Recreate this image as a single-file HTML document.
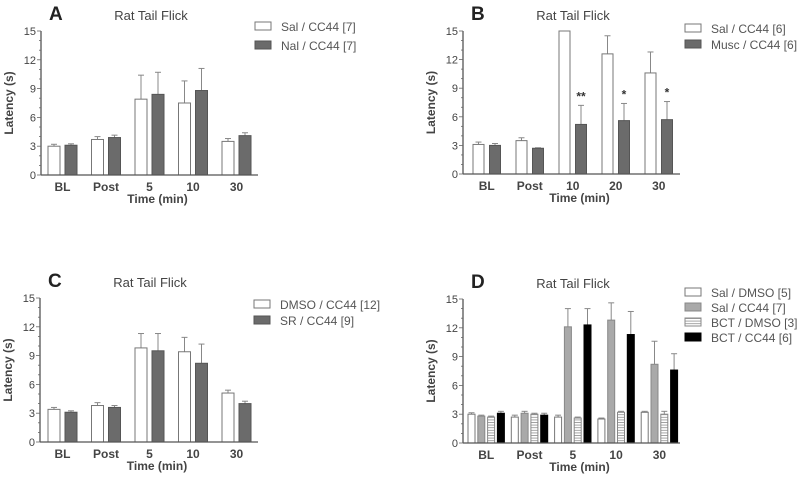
<!DOCTYPE html>
<html><head><meta charset="utf-8"><style>
html,body{margin:0;padding:0;background:#fff;}
svg{display:block;font-family:"Liberation Sans",Arial,sans-serif;}
</style></head><body>
<svg id="fig" width="800" height="482" viewBox="0 0 800 482">
<defs><pattern id="hatch" width="4" height="2.6" patternUnits="userSpaceOnUse"><rect width="4" height="2.6" fill="#fff"/><line x1="0" y1="1.3" x2="4" y2="1.3" stroke="#999" stroke-width="0.9"/></pattern></defs>
</svg>
<script>
const cats = [
  ["BL","Post","5","10","30"],
  ["BL","Post","10","20","30"],
  ["BL","Post","5","10","30"],
  ["BL","Post","5","10","30"]
];
const yTicks = [0,3,6,9,12,15];
const aSal = [3.0,3.7,7.9,7.5,3.5], aSalErr = [0.2,0.3,2.5,2.3,0.3];
const aNal = [3.1,3.9,8.4,8.8,4.1], aNalErr = [0.15,0.25,2.3,2.3,0.3];
const bSal = [3.1,3.5,15,12.6,10.6], bSalErr = [0.25,0.3,0,1.9,2.2];
const bMusc = [3.0,2.7,5.2,5.6,5.7], bMuscErr = [0.2,0.05,2.0,1.8,1.9];
const bStars = ["","","**","*","*"];
const cDmso = [3.4,3.8,9.8,9.4,5.1], cDmsoErr = [0.2,0.3,1.5,1.5,0.3];
const cSr = [3.1,3.6,9.5,8.2,4.0], cSrErr = [0.15,0.2,1.8,2.0,0.25];
const dSalDmso = [3.0,2.7,2.7,2.5,3.2], dSalDmsoErr = [0.15,0.2,0.2,0.1,0.1];
const dSalCc = [2.8,3.1,12.1,12.8,8.2], dSalCcErr = [0.1,0.2,1.9,1.8,2.4];
const dBctDmso = [2.7,3.0,2.6,3.2,3.0], dBctDmsoErr = [0.1,0.1,0.1,0.1,0.3];
const dBctCc = [3.1,2.9,12.3,11.3,7.6], dBctCcErr = [0.2,0.2,1.7,2.4,1.7];

const svg = document.getElementById('fig');
const NS = 'http://www.w3.org/2000/svg';
function mk(tag, attrs, parent, text){
  const e = document.createElementNS(NS, tag);
  for (const k in attrs) e.setAttribute(k, attrs[k]);
  if (text !== undefined) e.textContent = text;
  (parent||svg).appendChild(e);
  return e;
}
const styles = {
  white:{fill:"#fff",stroke:"#777"},
  dark:{fill:"#6b6b6b",stroke:"#555"},
  light:{fill:"#a9a9a9",stroke:"#888"},
  hatch:{fill:"url(#hatch)",stroke:"#888"},
  black:{fill:"#000",stroke:"#000"}
};
const panels = [
  {id:"a",letter:"A",ax:41,y0:175,y15:31,xEnd:258,start:48,gstep:43.5,bw:12,bstep:17,ci:0,
   series:[[aSal,aSalErr,"white","Sal / CC44 [7]"],[aNal,aNalErr,"dark","Nal / CC44 [7]"]],
   legX:255,legY:22,legStep:19},
  {id:"b",letter:"B",ax:463,y0:174,y15:31,xEnd:680,start:473,gstep:43,bw:11,bstep:16.5,ci:1,
   series:[[bSal,bSalErr,"white","Sal / CC44 [6]"],[bMusc,bMuscErr,"dark","Musc / CC44 [6]"]],
   legX:685,legY:24,legStep:16,stars:bStars},
  {id:"c",letter:"C",ax:40,y0:442,y15:298,xEnd:258,start:48,gstep:43.5,bw:12,bstep:17,ci:2,
   series:[[cDmso,cDmsoErr,"white","DMSO / CC44 [12]"],[cSr,cSrErr,"dark","SR / CC44 [9]"]],
   legX:254,legY:300,legStep:16},
  {id:"d",letter:"D",ax:463,y0:443,y15:299,xEnd:680,start:468,gstep:43.3,bw:7,bstep:9.8,ci:3,
   series:[[dSalDmso,dSalDmsoErr,"white","Sal / DMSO [5]"],[dSalCc,dSalCcErr,"light","Sal / CC44 [7]"],
           [dBctDmso,dBctDmsoErr,"hatch","BCT / DMSO [3]"],[dBctCc,dBctCcErr,"black","BCT / CC44 [6]"]],
   legX:685,legY:288,legStep:15}
];
panels.forEach(p=>{
  const g = mk('g',{});
  
  
  const y = v => p.y0 - (v/15)*(p.y0-p.y15);
  const xc = cats[p.ci];
  const t = mk('text',{x:p.ax+8,y:p.y15-11,'font-size':19,'font-weight':'bold',fill:'#222'},g,p.letter);
   
  const ti = mk('text',{x:p.ax+110,y:p.y15-11,'font-size':13,fill:'#444','text-anchor':'middle'},g,"Rat Tail Flick");
   
  p.series.forEach((s,si)=>{
    const [vals,errs,st,label] = s;
    vals.forEach((v,i)=>{
      const bx = p.start + i*p.gstep + si*p.bstep;
      const top = y(v);
      if (errs[i]>0){
        const ey = y(v+errs[i]);
        const e1 = mk('line',{x1:bx+p.bw/2,x2:bx+p.bw/2,y1:top,y2:ey,stroke:'#888','stroke-width':1},g);
         
        mk('line',{x1:bx+p.bw/2-3,x2:bx+p.bw/2+3,y1:ey,y2:ey,stroke:'#888','stroke-width':1},g);
      }
      const r = mk('rect',{x:bx,y:top,width:p.bw,height:p.y0-top,fill:styles[st].fill,stroke:styles[st].stroke,'stroke-width':1},g);
      
      
      if (p.stars && si===1 && p.stars[i]){
        const stx = mk('text',{x:bx+p.bw/2,y:y(v+errs[i])-5,'font-size':12,'font-weight':'bold','text-anchor':'middle',fill:'#333'},g,p.stars[i]);
         
      }
    });
    const ly = p.legY + si*p.legStep;
    const lb = mk('rect',{x:p.legX,y:ly,width:16,height:8,fill:styles[st].fill,stroke:styles[st].stroke},g);
     
    const lt = mk('text',{x:p.legX+26,y:ly+9,'font-size':12,fill:'#555'},g,label);
     
  });
  const ya = mk('line',{x1:p.ax,x2:p.ax,y1:p.y15,y2:p.y0,stroke:'#555','stroke-width':1.3},g);
   
  const xa = mk('line',{x1:p.ax,x2:p.xEnd,y1:p.y0,y2:p.y0,stroke:'#555','stroke-width':1.3},g);
   
  for (let v=0; v<=15; v++){
    const major = yTicks.includes(v);
    mk('line',{x1:p.ax-(major?4:2),x2:p.ax,y1:y(v),y2:y(v),stroke:'#666','stroke-width':0.8},g);
  }
  yTicks.forEach(v=>{
    const tl = mk('text',{x:p.ax-5,y:y(v)+4,'font-size':11,'text-anchor':'end',fill:'#444'},g,String(v));
     
  });
  const nS = p.series.length;
  xc.forEach((c,i)=>{
    const cx = p.start + i*p.gstep + ((nS-1)*p.bstep + p.bw)/2;
    const xl = mk('text',{x:cx,y:p.y0+16,'font-size':12,'font-weight':'bold','text-anchor':'middle',fill:'#444'},g,c);
     
  });
  const xt = mk('text',{x:(p.ax+p.xEnd)/2+8,y:p.y0+28,'font-size':12,'font-weight':'bold','text-anchor':'middle',fill:'#444'},g,"Time (min)");
   
  const yt = mk('text',{x:0,y:0,'font-size':12,'font-weight':'bold','text-anchor':'middle',fill:'#444',transform:`translate(${p.ax-28},${(p.y0+p.y15)/2}) rotate(-90)`},g,"Latency (s)");
   
});
</script>
</body></html>
